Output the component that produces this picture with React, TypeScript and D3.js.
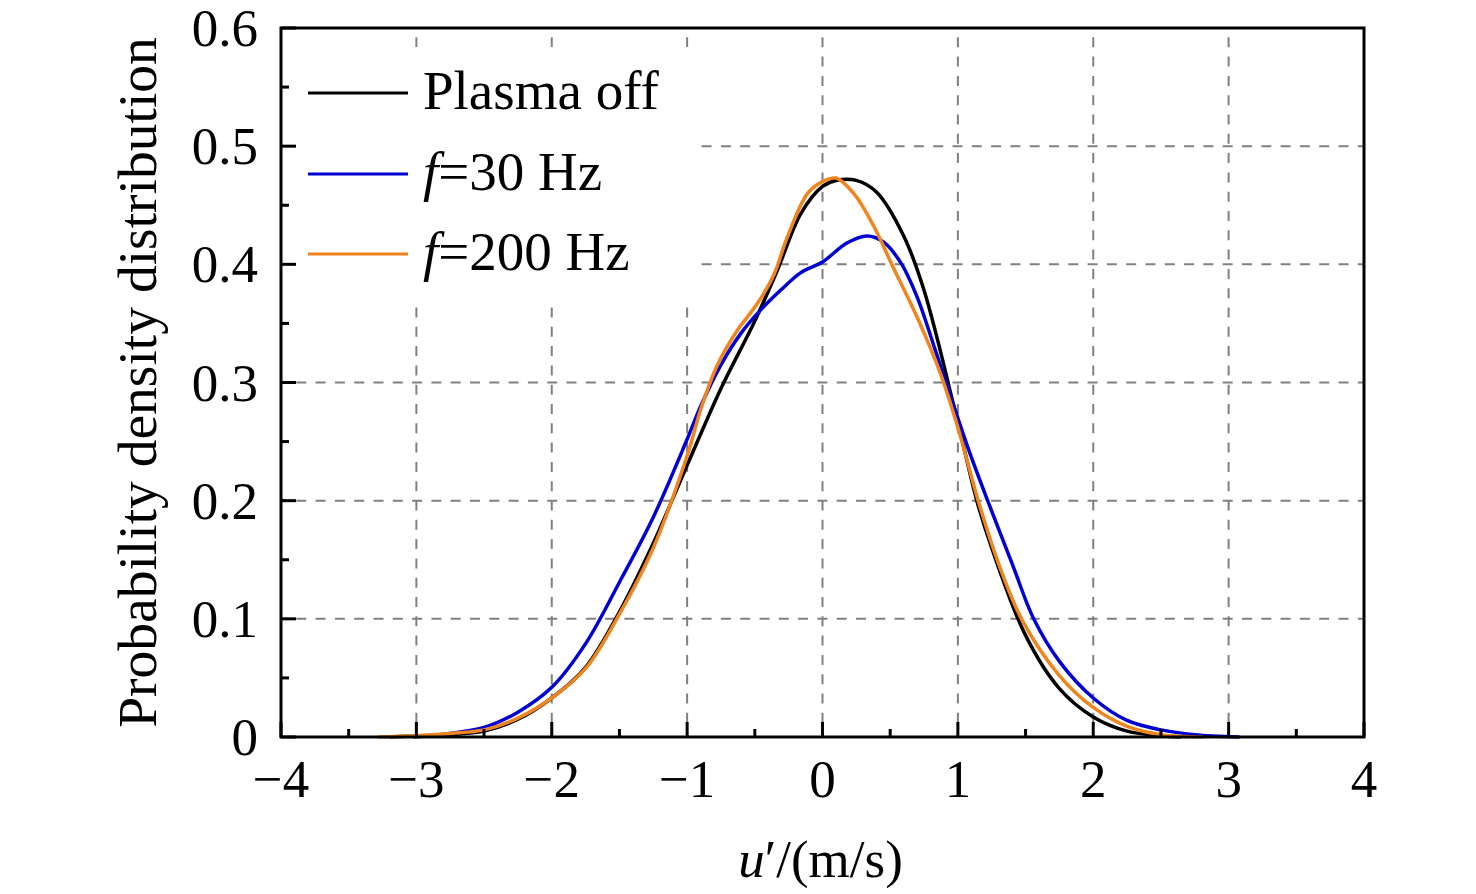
import React, { useEffect, useRef } from 'react';
import * as d3 from 'd3';

// Plasma off
const uOff = [-3.2, -3.0, -2.75, -2.5, -2.25, -2.0, -1.75, -1.5, -1.25, -1.0, -0.75, -0.5, -0.33, -0.16, 0.0, 0.1, 0.25, 0.4, 0.6, 0.75, 1.0, 1.14, 1.25, 1.5, 1.75, 2.0, 2.25, 2.5, 2.65];
const pOff = [0, 0.001, 0.002, 0.005, 0.015, 0.033, 0.059, 0.106, 0.164, 0.23, 0.295, 0.352, 0.396, 0.443, 0.466, 0.471, 0.471, 0.461, 0.424, 0.378, 0.266, 0.2, 0.16, 0.086, 0.041, 0.017, 0.005, 0.001, 0];

// f = 30 Hz
const u30 = [-3.02, -2.75, -2.5, -2.25, -2.0, -1.75, -1.5, -1.25, -1.0, -0.9, -0.75, -0.6, -0.46, -0.31, -0.16, 0.0, 0.18, 0.33, 0.45, 0.58, 0.7, 0.82, 0.95, 1.08, 1.22, 1.4, 1.56, 1.75, 2.0, 2.25, 2.5, 2.75, 3.08];
const p30 = [0, 0.003, 0.008, 0.021, 0.042, 0.079, 0.131, 0.186, 0.252, 0.28, 0.315, 0.342, 0.361, 0.378, 0.393, 0.402, 0.418, 0.424, 0.419, 0.401, 0.372, 0.332, 0.287, 0.243, 0.2, 0.147, 0.1, 0.064, 0.033, 0.014, 0.006, 0.002, 0];

// f = 200 Hz
const u200 = [-3.28, -3.0, -2.75, -2.5, -2.25, -2.0, -1.75, -1.5, -1.25, -1.0, -0.9, -0.78, -0.63, -0.48, -0.36, -0.26, -0.11, 0.0, 0.1, 0.23, 0.38, 0.52, 0.7, 0.87, 1.0, 1.15, 1.3, 1.47, 1.75, 2.0, 2.25, 2.5, 2.81];
const p200 = [0, 0.001, 0.003, 0.006, 0.016, 0.033, 0.058, 0.104, 0.16, 0.238, 0.277, 0.314, 0.344, 0.367, 0.391, 0.423, 0.46, 0.47, 0.473, 0.46, 0.432, 0.398, 0.355, 0.308, 0.262, 0.2, 0.147, 0.1, 0.052, 0.025, 0.009, 0.002, 0];

const seriesNames = ['Plasma off', '30 Hz', '200 Hz'];
const seriesColors = ['#000000', '#0000d2', '#f0841e'];
const xTicks = [-4, -3, -2, -1, 0, 1, 2, 3, 4];
const yTicks = [0, 0.1, 0.2, 0.3, 0.4, 0.5, 0.6];

const W = 1476;
const H = 894;
const margin = { left: 281, right: 112, top: 28, bottom: 157 };
const FONT = '"Liberation Serif", "Times New Roman", serif';

export default function App() {
  const svgRef = useRef<SVGSVGElement>(null);

  useEffect(() => {
    if (!svgRef.current) return;
    const svg = d3.select(svgRef.current);
    svg.selectAll('*').remove();

    const x0 = margin.left;
    const x1 = W - margin.right;
    const y0 = H - margin.bottom;
    const y1 = margin.top;

    const x = d3.scaleLinear().domain([-4, 4]).range([x0, x1]);
    const y = d3.scaleLinear().domain([0, 0.6]).range([y0, y1]);

    // grid
    const grid = svg.append('g').attr('stroke', '#808080').attr('stroke-width', 2).attr('stroke-dasharray', '10,9.3');
    xTicks.slice(1, -1).forEach(t => {
      grid.append('line').attr('x1', x(t)).attr('x2', x(t)).attr('y1', y1).attr('y2', y0)
        .attr('stroke-dashoffset', 10);
    });
    yTicks.slice(1, -1).forEach(t => {
      grid.append('line').attr('x1', x0).attr('x2', x1).attr('y1', y(t)).attr('y2', y(t))
        .attr('stroke-dashoffset', 4);
    });

    // legend background hides grid
    svg.append('rect').attr('x', x0 + 1).attr('y', 47).attr('width', 412).attr('height', 252).attr('fill', '#fff');

    // curves
    const line = d3.line<[number, number]>()
      .x(d => x(d[0]))
      .y(d => y(d[1]))
      .curve(d3.curveCatmullRom.alpha(0.5));

    const sets: [number[], number[]][] = [[uOff, pOff], [u30, p30], [u200, p200]];
    sets.forEach(([us, ps], i) => {
      const pts = us.map((u, j) => [u, ps[j]] as [number, number]);
      svg.append('path').attr('d', line(pts) || '').attr('fill', 'none')
        .attr('stroke', seriesColors[i]).attr('stroke-width', 3.5).attr('stroke-linejoin', 'round');
    });

    // axes frame
    svg.append('rect').attr('x', x0).attr('y', y1).attr('width', x1 - x0).attr('height', y0 - y1)
      .attr('fill', 'none').attr('stroke', '#000').attr('stroke-width', 3);

    const ticks = svg.append('g').attr('stroke', '#000').attr('stroke-width', 3);
    d3.range(-4, 4.01, 0.5).forEach(t => {
      const major = Math.abs(t - Math.round(t)) < 1e-6;
      ticks.append('line').attr('x1', x(t)).attr('x2', x(t)).attr('y1', y0).attr('y2', y0 - (major ? 15 : 8));
    });
    d3.range(0, 0.601, 0.05).forEach(t => {
      const major = Math.abs(t * 10 - Math.round(t * 10)) < 1e-6;
      ticks.append('line').attr('x1', x0).attr('x2', x0 + (major ? 15 : 8)).attr('y1', y(t)).attr('y2', y(t));
    });

    const fmtX = (t: number) => (t < 0 ? '\u2212' + Math.abs(t) : String(t));
    svg.append('g').selectAll('text').data(xTicks).enter().append('text')
      .attr('x', d => x(d)).attr('y', y0 + 60)
      .attr('text-anchor', 'middle').attr('font-family', FONT).attr('font-size', 53)
      .text(d => fmtX(d));

    svg.append('g').selectAll('text').data(yTicks).enter().append('text')
      .attr('x', x0 - 23).attr('y', d => y(d) + 18)
      .attr('text-anchor', 'end').attr('font-family', FONT).attr('font-size', 53)
      .text(d => (d === 0 ? '0' : d.toFixed(1)));

    // axis titles
    const xt = svg.append('text').attr('x', (x0 + x1) / 2 - 2).attr('y', 877)
      .attr('text-anchor', 'middle').attr('font-family', FONT).attr('font-size', 53);
    xt.append('tspan').attr('font-style', 'italic').text('u');
    xt.append('tspan').text('\u2032/(m/s)');

    svg.append('text')
      .attr('transform', `translate(156,${(y0 + y1) / 2}) rotate(-90)`)
      .attr('text-anchor', 'middle').attr('font-family', FONT).attr('font-size', 55.5)
      .text('Probability density distribution');

    // legend
    const legY = [93, 174, 254];
    seriesNames.forEach((name, i) => {
      svg.append('line').attr('x1', 308).attr('x2', 408).attr('y1', legY[i]).attr('y2', legY[i])
        .attr('stroke', seriesColors[i]).attr('stroke-width', 3);
      const t = svg.append('text').attr('x', 423).attr('y', legY[i] + 16)
        .attr('font-family', FONT).attr('font-size', 55);
      if (i === 0) {
        t.text(name);
      } else {
        t.append('tspan').attr('font-style', 'italic').text('f');
        t.append('tspan').text('=' + name);
      }
    });
  }, []);

  return (
    <div style={{ position: 'absolute', left: 0, top: 0, background: '#fff' }}>
      <svg ref={svgRef} width={W} height={H} style={{ display: 'block' }} />
    </div>
  );
}
